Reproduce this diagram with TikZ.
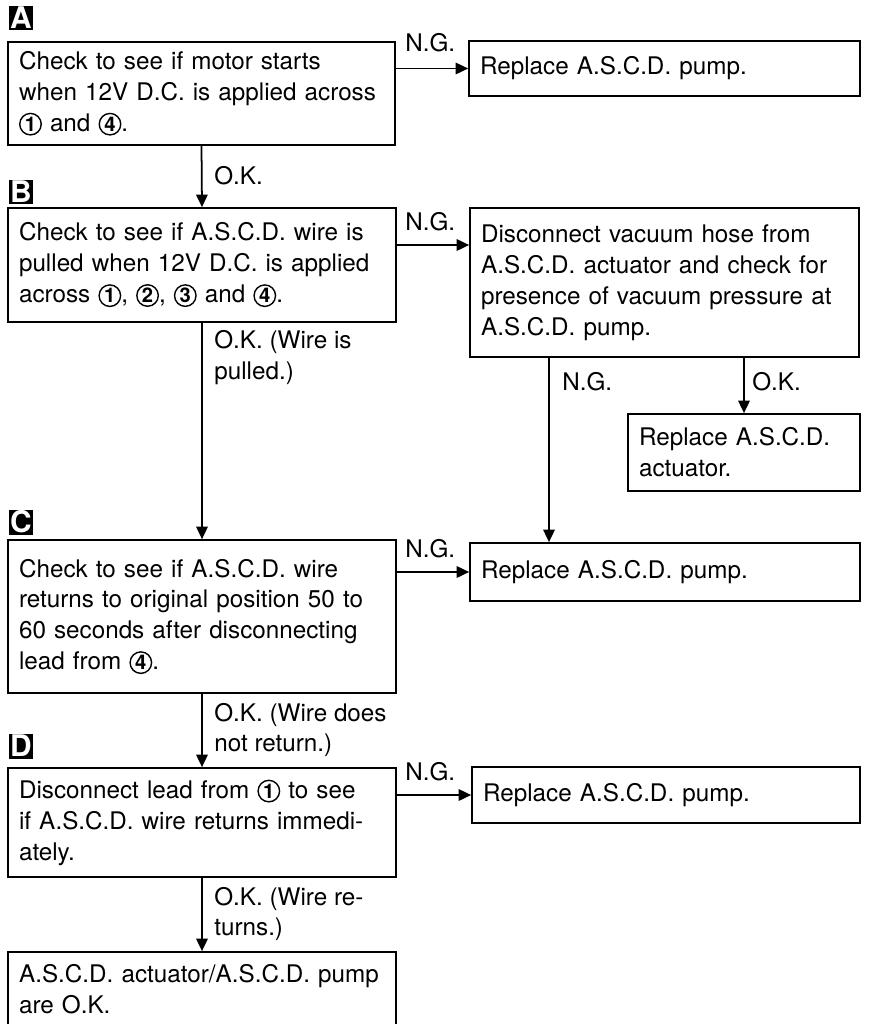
\documentclass[tikz,border=0pt]{standalone}
\usepackage{fontspec}
\setmainfont{TeX Gyre Heros}
\usetikzlibrary{arrows.meta}

% circled terminal number
\newcommand{\cnum}[1]{\tikz[baseline=(n.base)]\node[draw,circle,line width=0.8pt,inner sep=0pt,minimum size=0.43cm,font=\bfseries\fontsize{11.5}{11.5}\selectfont] (n) {#1};}

\begin{document}
\begin{tikzpicture}[x=0.02cm, y=-0.02cm,
		box/.style 2 args={draw, line width=1pt, inner xsep=0.22cm, inner ysep=0pt, align=left, text width=#1, minimum height=#2, font=\fontsize{13.8}{17.6}\selectfont},
		letterbox/.style={fill=black, text=white, inner sep=0pt, minimum size=0.5cm, font=\bfseries\fontsize{17}{17}\selectfont},
		lbl/.style={anchor=west, align=left, inner sep=0pt, font=\fontsize{13.8}{17.6}\selectfont},
		arr/.style={-{Triangle[length=0.25cm, width=0.23cm]}, line width=1pt}]
	\useasboundingbox (0,0) rectangle (869,1024);
	
	% left column
	\node[letterbox] (mA) at (21,18) {A};
	\node[box={7.30cm}{2.06cm}] (a) at (201.5,93.5) {Check to see if motor starts\\when 12V D.C. is applied across\\\cnum{1} and \cnum{4}.};
	\node[letterbox] (mB) at (21,192) {B};
	\node[box={7.32cm}{2.28cm}] (b) at (202,265) {Check to see if A.S.C.D. wire is\\pulled when 12V D.C. is applied\\across \cnum{1}, \cnum{2}, \cnum{3} and \cnum{4}.};
	\node[letterbox] (mC) at (21,522) {C};
	\node[box={7.32cm}{3.06cm}] (c) at (202,616.5) {Check to see if A.S.C.D. wire\\returns to original position 50 to\\60 seconds after disconnecting\\lead from \cnum{4}.};
	\node[letterbox] (mD) at (21,746) {D};
	\node[box={7.32cm}{2.18cm}] (d) at (202,822.5) {Disconnect lead from \cnum{1} to see\\if A.S.C.D. wire returns immedi-\\ately.};
	\node[box={7.32cm}{1.48cm}] (ok) at (202,989) {A.S.C.D. actuator/A.S.C.D. pump\\are O.K.};
	
	% right column
	\node[box={7.38cm}{1.10cm}] (pa) at (664.5,68.5) {Replace A.S.C.D. pump.};
	\node[box={7.34cm}{2.98cm}] (v) at (664.5,282.5) {Disconnect vacuum hose from\\A.S.C.D. actuator and check for\\presence of vacuum pressure at\\A.S.C.D. pump.};
	\node[box={4.20cm}{1.54cm}] (act) at (744,452.5) {Replace A.S.C.D.\\actuator.};
	\node[box={7.36cm}{1.16cm}] (pc) at (665,572) {Replace A.S.C.D. pump.};
	\node[box={7.32cm}{1.12cm}] (pd) at (666,795) {Replace A.S.C.D. pump.};
	
	% connectors
	\coordinate (bng) at (396,245);
	\coordinate (vng) at (549,357);
	\draw[arr] (a.east |- pa.west) -- (pa.west);
	\draw[arr] (a.south) -- (b.north);
	\draw[arr] (bng) -- (bng -| v.west);
	\draw[arr] (b.south) -- (c.north);
	\draw[arr] (act.north |- v.south) -- (act.north);
	\draw[arr] (vng) -- (vng |- pc.north);
	\draw[arr] (c.east |- pc.west) -- (pc.west);
	\draw[arr] (c.south) -- (d.north);
	\draw[arr] (d.east |- pd.west) -- (pd.west);
	\draw[arr] (d.south) -- (ok.north);
	
	% labels
	\node[lbl] (ngA) at (405,43) {N.G.};
	\node[lbl] (okA) at (214,176) {O.K.};
	\node[lbl] (ngB) at (405,222) {N.G.};
	\node[lbl] (okB) at (214,358) {O.K. (Wire is\\pulled.)};
	\node[lbl] (ngV) at (562,382) {N.G.};
	\node[lbl] (okV) at (752,382) {O.K.};
	\node[lbl] (ngC) at (405,549) {N.G.};
	\node[lbl] (okC) at (214,730) {O.K. (Wire does\\not return.)};
	\node[lbl] (ngD) at (405,772) {N.G.};
	\node[lbl] (okD) at (214,914) {O.K. (Wire re-\\turns.)};
\end{tikzpicture}
\end{document}
